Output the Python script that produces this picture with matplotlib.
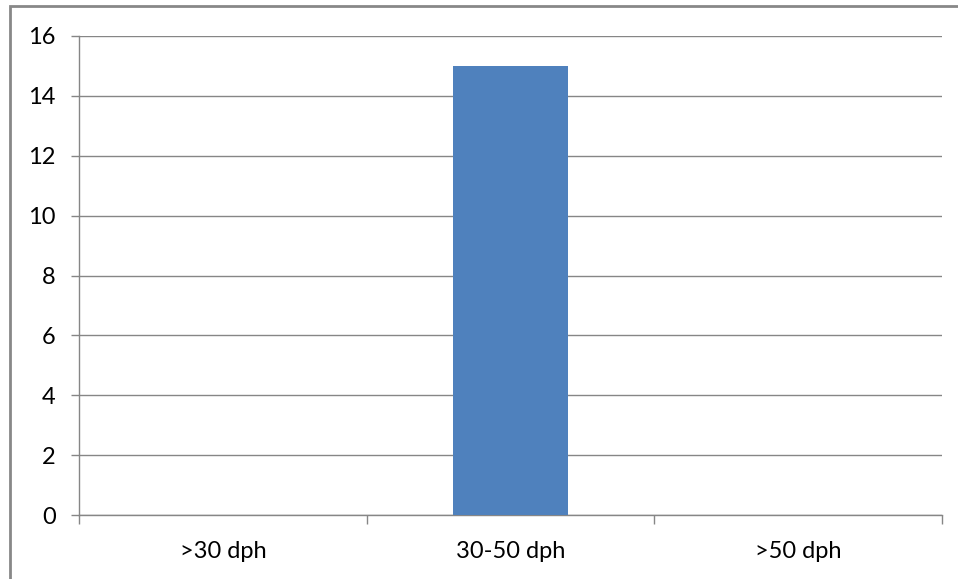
import matplotlib.pyplot as plt
from matplotlib.patches import Rectangle

kategorije = [">30 dph", "30-50 dph", ">50 dph"]
vrijednosti = [0, 15, 0]
y_ticks = [0, 2, 4, 6, 8, 10, 12, 14, 16]

plt.rcParams['font.family'] = ['Lato', 'DejaVu Sans']

fig = plt.figure(figsize=(9.58, 5.79), dpi=100)
W, H = 958, 579
ax = fig.add_axes([79 / W, 1 - 515 / H, (942 - 79) / W, (515 - 36) / H])

siva = "#868686"
x = range(len(kategorije))
ax.bar(x, vrijednosti, width=0.4, color="#4F81BD", zorder=3)

ax.set_xlim(-0.5, len(kategorije) - 0.5)
ax.set_ylim(0, 16)
ax.set_yticks(y_ticks)
ax.set_yticklabels([str(v) for v in y_ticks])
ax.set_xticks(x)
ax.set_xticklabels(kategorije)
ax.set_xticks([-0.5, 0.5, 1.5, 2.5], minor=True)

ax.grid(axis="y", color=siva, linewidth=1, zorder=0)
for s in ["top", "right"]:
    ax.spines[s].set_visible(False)
for s in ["left", "bottom"]:
    ax.spines[s].set_color(siva)
    ax.spines[s].set_linewidth(1)

ax.tick_params(axis="y", length=5.8, width=1, color=siva, pad=11, labelsize=17)
ax.tick_params(axis="x", which="major", length=0, pad=19, labelsize=17)
ax.tick_params(axis="x", which="minor", length=6.5, width=1, color=siva)

# okvir grafikona
fig.patches.append(Rectangle((9.5 / W, -0.1), 1.2, 1.1 - 6.5 / H, transform=fig.transFigure,
                             fill=False, edgecolor="#888888", linewidth=2))

fig.savefig("out.png", dpi=100)
